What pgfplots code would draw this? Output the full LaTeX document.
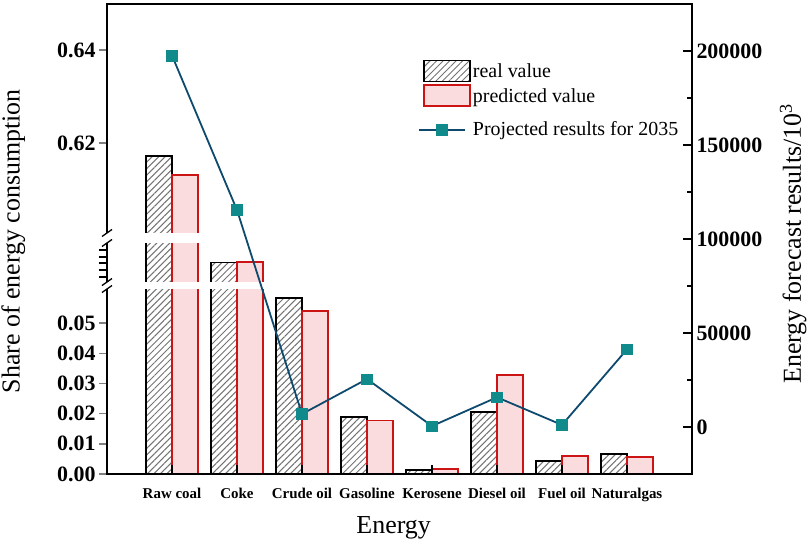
\documentclass[border=0pt]{standalone}
\usepackage{pgfplots}
\pgfplotsset{compat=1.18}
\usepackage{fontspec}
\setmainfont{Liberation Serif}
\usetikzlibrary{patterns.meta}
\definecolor{linec}{RGB}{14,74,110}
\definecolor{markc}{RGB}{16,138,138}
\definecolor{pinkc}{RGB}{251,220,222}
\definecolor{redc}{RGB}{205,20,20}
\pgfplotsset{
  realbar/.style={draw=black, line width=1.8bp, pattern={Lines[angle=45,distance=4.6bp,line width=1bp]}, pattern color=black!55},
  predbar/.style={draw=redc, line width=1.8bp, fill=pinkc},
  boxlegend/.style={legend image code/.code={\draw[##1] (0bp,-10.5bp) rectangle (46bp,10.5bp);}},
  linelegend/.style={legend image code/.code={\path (0bp,19.5bp); \draw[mark repeat=2,mark phase=2,##1] plot coordinates {(-5bp,0bp) (18bp,0bp) (41bp,0bp)};}},
}
\begin{document}
\begin{tikzpicture}
\begin{axis}[
  name=ax,
  scale only axis, width=585bp, height=470bp,
  xmin=-1, xmax=8,
  ymin=0, ymax=0.64989,
  y coord trafo/.code={\pgfmathparse{#1<=0.062 ? 3020*#1 : (#1<=0.6 ? 187.24+94.35*(#1-0.062) : 238+4650*(#1-0.6))}},
  clip=false,
  scaled y ticks=false,
  axis line style={line width=1.6bp},
  xtick={0,...,7},
  xticklabels={Raw coal,Coke,Crude oil,Gasoline,Kerosene,Diesel oil,Fuel oil,Naturalgas},
  xtick style={draw=none},
  xticklabel style={font=\fontsize{15}{15}\selectfont\bfseries, yshift=-3bp},
  ytick={0,0.01,0.02,0.03,0.04,0.05,0.62,0.64},
  yticklabels={0.00,0.01,0.02,0.03,0.04,0.05,0.62,0.64},
  yticklabel style={font=\fontsize{22}{22}\selectfont\bfseries},
  ytick pos=left,
  tick align=outside,
  major tick length=8bp,
  ytick style={line width=1.4bp},
  xlabel={Energy},
  xlabel style={font=\fontsize{26}{26}\selectfont, at={(axis description cs:0.49,-0.115)}, anchor=center},
  ylabel={Share of energy consumption},
  ylabel style={font=\fontsize{26}{26}\selectfont, at={(axis description cs:-0.16,0.495)}, anchor=center},
]
\addplot[realbar, ybar, bar width=0.4, bar shift=-0.2] coordinates {
(0,0.6172) (1,0.319) (2,0.0584) (3,0.019) (4,0.0013) (5,0.0204) (6,0.0044) (7,0.0066)};
\addplot[predbar, ybar, bar width=0.4, bar shift=0.2] coordinates {
(0,0.6131) (1,0.328) (2,0.054) (3,0.0177) (4,0.0016) (5,0.0328) (6,0.0059) (7,0.0057)};
% axis break bands
\fill[white] ([xshift=-6bp]rel axis cs:0,0.4915) rectangle (rel axis cs:0.96,0.5128);
\fill[white] ([xshift=-6bp]rel axis cs:0,0.3936) rectangle (rel axis cs:0.96,0.4085);
\draw[line width=1.3bp] ([xshift=-5bp,yshift=-3.5bp]rel axis cs:0,0.4915) -- ([xshift=5bp,yshift=3.5bp]rel axis cs:0,0.4915);
\draw[line width=1.3bp] ([xshift=-5bp,yshift=-3.5bp]rel axis cs:0,0.5128) -- ([xshift=5bp,yshift=3.5bp]rel axis cs:0,0.5128);
\draw[line width=1.3bp] ([xshift=-5bp,yshift=-3.5bp]rel axis cs:0,0.3936) -- ([xshift=5bp,yshift=3.5bp]rel axis cs:0,0.3936);
\draw[line width=1.3bp] ([xshift=-5bp,yshift=-3.5bp]rel axis cs:0,0.4085) -- ([xshift=5bp,yshift=3.5bp]rel axis cs:0,0.4085);
\draw[line width=1.3bp] ([xshift=-8bp]rel axis cs:0,0.4766) -- (rel axis cs:0,0.4766);
\draw[line width=1.3bp] ([xshift=-8bp]rel axis cs:0,0.4617) -- (rel axis cs:0,0.4617);
\draw[line width=1.3bp] ([xshift=-8bp]rel axis cs:0,0.4489) -- (rel axis cs:0,0.4489);
\draw[line width=1.3bp] ([xshift=-8bp]rel axis cs:0,0.4340) -- (rel axis cs:0,0.4340);
\draw[line width=1.3bp] ([xshift=-8bp]rel axis cs:0,0.4191) -- (rel axis cs:0,0.4191);
\end{axis}
\begin{axis}[
  scale only axis, width=585bp, height=470bp,
  xmin=-1, xmax=8,
  ymin=-25000, ymax=225000,
  scaled y ticks=false, scaled x ticks=false,
  axis y line*=right, axis x line*=bottom,
  axis line style={line width=1.6bp},
  xtick={0,...,7}, xticklabels={},
  ytick={0,50000,100000,150000,200000},
  yticklabels={0,50000,100000,150000,200000},
  minor y tick num=1,
  tick align=inside,
  major tick length=9bp, minor tick length=5.5bp,
  every tick/.style={line width=1.4bp, black},
  yticklabel style={font=\fontsize{22}{22}\selectfont\bfseries, xshift=1bp},
  ylabel={Energy forecast results/10\textsuperscript{3}},
  ylabel style={font=\fontsize{26}{26}\selectfont, at={(axis description cs:1.173,0.49)}, anchor=center},
  legend style={at={(rel axis cs:0.5315,0.882)}, anchor=north west, draw=none, fill=none,
    font=\fontsize{20}{20}\selectfont, inner sep=0pt, row sep=2bp,
    nodes={inner sep=2bp}},
  legend cell align=left,
]
\addlegendimage{realbar, boxlegend}
\addlegendentry{real value}
\addlegendimage{predbar, boxlegend}
\addlegendentry{predicted value}
\addplot[linelegend, linec, line width=1.8bp, mark=square*, mark size=5.3bp, mark options={fill=markc, draw=markc, line width=0.5bp}] coordinates {
(0,197600) (1,115400) (2,6900) (3,25500) (4,500) (5,15800) (6,1100) (7,41300)};
\addlegendentry{Projected results for 2035}
\end{axis}
\pgfresetboundingbox
\path[use as bounding box] ([shift={(-107bp,-69bp)}]ax.south west) rectangle ([shift={(117bp,4bp)}]ax.north east);
\end{tikzpicture}
\end{document}
